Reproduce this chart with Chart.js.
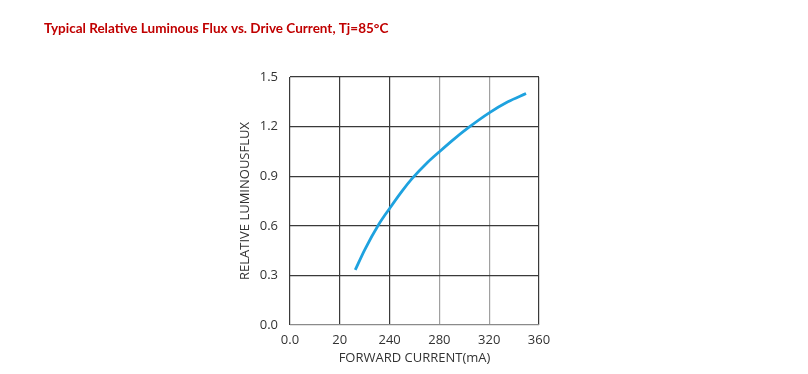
<!DOCTYPE html>
<html>
<head>
<meta charset="utf-8">
<script src="https://cdn.jsdelivr.net/npm/chart.js@4/dist/chart.umd.min.js"></script>
<style>
html,body{margin:0;padding:0;background:#fff;}
#wrap{width:808px;height:374px;}
</style>
</head>
<body>
<div id="wrap"><canvas id="c" width="808" height="374"></canvas></div>
<script>
// Data
const currentMA = [212.4, 220, 231, 240, 250, 258, 270, 280, 291, 303, 320, 335, 349.6];
const relFlux   = [0.333, 0.455, 0.605, 0.705, 0.81, 0.885, 0.98, 1.048, 1.12, 1.192, 1.283, 1.35, 1.40];
const xTickValues = [160, 200, 240, 280, 320, 360];
const xTickLabels = ['0.0', '20', '240', '280', '320', '360'];
const yTickValues = [0, 0.3, 0.6, 0.9, 1.2, 1.5];
const yTickLabels = ['0.0', '0.3', '0.6', '0.9', '1.2', '1.5'];
const titleText = 'Typical Relative Luminous Flux vs. Drive Current, Tj=85°C';
const xTitle = 'FORWARD CURRENT(mA)';
const yTitle = 'RELATIVE LUMINOUSFLUX';

const points = currentMA.map((x, i) => ({x: x, y: relFlux[i]}));
const dark = '#3a3a3a';
const light = '#a0a0a0';
const xGridColors = [dark, dark, dark, light, light, dark];
const yGridColors = ['#8a8a8a', dark, dark, dark, dark, dark];
const tickFont = {family: '"Open Sans", "DejaVu Sans", sans-serif', size: 13};

new Chart(document.getElementById('c'), {
  type: 'scatter',
  data: {
    datasets: [{
      data: points,
      showLine: true,
      borderColor: '#1ea2df',
      borderWidth: 2.8,
      pointRadius: 0,
      pointHoverRadius: 0,
      cubicInterpolationMode: 'monotone',
      fill: false
    }]
  },
  options: {
    responsive: false,
    animation: false,
    events: [],
    layout: {padding: {left: 44, right: 269, top: 0, bottom: 0}},
    plugins: {
      legend: {display: false},
      tooltip: {enabled: false},
      title: {
        display: true,
        text: titleText,
        align: 'start',
        color: '#c00000',
        font: {family: 'Lato, "Open Sans", sans-serif', size: 13.5, weight: 'bold', lineHeight: 1.2},
        padding: {top: 21, bottom: 39.8}
      }
    },
    scales: {
      x: {
        type: 'linear',
        min: 160,
        max: 360,
        afterBuildTicks: (s) => { s.ticks = xTickValues.map(v => ({value: v})); },
        afterFit: (s) => { s.height = 49; },
        ticks: {
          color: '#333',
          font: tickFont,
          padding: 7,
          maxRotation: 0,
          callback: (v) => { const i = xTickValues.indexOf(v); return i >= 0 ? xTickLabels[i] : ''; }
        },
        grid: {
          drawTicks: false,
          lineWidth: 1.2,
          color: (ctx) => xGridColors[ctx.index] || dark
        },
        border: {display: false},
        title: {
          display: true,
          text: xTitle,
          color: '#333',
          font: {family: '"Open Sans", "DejaVu Sans", sans-serif', size: 13},
          padding: {top: 8, bottom: 8}
        }
      },
      y: {
        type: 'linear',
        min: 0,
        max: 1.5,
        afterBuildTicks: (s) => { s.ticks = yTickValues.map(v => ({value: v})); },
        afterFit: (s) => { s.width = 246; },
        ticks: {
          color: '#333',
          font: tickFont,
          padding: 12,
          callback: (v) => { const i = yTickValues.findIndex(t => Math.abs(t - v) < 1e-9); return i >= 0 ? yTickLabels[i] : ''; }
        },
        grid: {
          drawTicks: false,
          lineWidth: 1.2,
          color: (ctx) => yGridColors[ctx.index] || dark
        },
        border: {display: false},
        title: {
          display: true,
          text: yTitle,
          color: '#333',
          font: {family: '"Open Sans", "DejaVu Sans", sans-serif', size: 13},
          padding: {top: 193, bottom: 193}
        }
      }
    }
  }
});
</script>
</body>
</html>
